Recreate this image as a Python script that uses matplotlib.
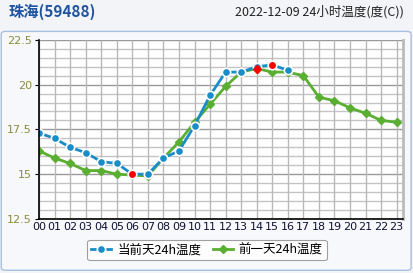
import matplotlib.pyplot as plt
from matplotlib.patches import FancyBboxPatch, Rectangle
from matplotlib.lines import Line2D

plt.rcParams['font.family'] = ['Noto Sans CJK SC', 'DejaVu Sans']

hours = ['%02d' % h for h in range(24)]
today = [17.3, 17.0, 16.5, 16.2, 15.7, 15.6, 15.0, 15.0, 15.9, 16.3, 17.7,
         19.4, 20.7, 20.7, 21.0, 21.1, 20.8]
yesterday = [16.3, 15.9, 15.6, 15.2, 15.2, 15.0, 14.95, 14.9, 15.9, 16.8, 17.9,
             18.9, 19.9, 20.7, 20.9, 20.7, 20.7, 20.5, 19.3, 19.1, 18.7, 18.4,
             18.0, 17.9]
yticks = [12.5, 15, 17.5, 20, 22.5]
ytick_labels = ['12.5', '15', '17.5', '20', '22.5']
ygrid = [12.5 + 0.5 * i for i in range(21)]

blue = '#1a8dc9'
green = '#5aae32'

fig = plt.figure(figsize=(4.14, 2.73), dpi=100)
fig.patch.set_facecolor('#f3f4f8')

pos = [0.0942, 0.198, 0.879, 0.656]

bg = fig.add_axes([0, 0, 1, 1], zorder=-5)
bg.set_axis_off()
bg.add_patch(FancyBboxPatch((0.003, 0.01), 0.99, 0.875,
                            boxstyle='round,pad=0,rounding_size=0.01',
                            transform=bg.transAxes, facecolor='#f7f8fc',
                            edgecolor='#a9c0e0', linewidth=1))
bg.add_patch(Rectangle((pos[0], pos[1]), pos[2], pos[3], transform=bg.transAxes,
                       facecolor='white', edgecolor='none'))

fig.text(0.02, 0.955, '珠海(59488)', color='#1f55a0', fontsize=11,
         fontweight='bold', ha='left', va='center')
fig.text(0.976, 0.955, '2022-12-09 24小时温度(度(C))', color='#222222',
         fontsize=9, ha='right', va='center')

ax = fig.add_axes(pos)
ax.patch.set_visible(False)
ax.set_xlim(0, 23.4)
ax.set_ylim(12.5, 22.5)

# grid
ax.hlines(ygrid, 0, 23.4, colors=['#999999' if v in yticks else '#c4c4c4' for v in ygrid],
          linewidth=1.0, zorder=2)
ax.vlines(range(24), 12.5, 22.5, colors='#b8b8b8', linewidth=1.0, zorder=2)

x_today = list(range(len(today)))
x_yest = list(range(len(yesterday)))

ax.plot(x_yest, yesterday, color=green, linewidth=2, marker='D', markersize=4.5,
        zorder=3)
ax.plot(x_today, today, color=blue, linewidth=2, marker='o', markersize=6,
        markeredgecolor='white', markeredgewidth=1.2, zorder=4)

imin = today.index(min(today))
imax = today.index(max(today))
ax.plot([x_today[imin], x_today[imax]], [today[imin], today[imax]], 'o',
        color='#ff0000', markersize=6, markeredgecolor='white',
        markeredgewidth=1.0, zorder=5)
gmax = yesterday.index(max(yesterday))
ax.plot([x_yest[gmax]], [yesterday[gmax]], 'D', color='#ff0000', markersize=4.5,
        zorder=5)

ax.set_xticks(range(24))
ax.set_xticklabels(hours, fontsize=8, color='#111133', family=['DejaVu Sans'])
ax.set_yticks(yticks)
ax.set_yticklabels(ytick_labels, fontsize=8, color='#8c8c40', family=['DejaVu Sans'])
ax.tick_params(axis='x', length=0, pad=2)
ax.tick_params(axis='y', length=3, direction='out', color='black', pad=2)

ax.spines['top'].set_visible(False)
ax.spines['right'].set_color('#bbbbbb')
ax.spines['right'].set_linewidth(2)
ax.spines['left'].set_color('black')
ax.spines['bottom'].set_color('black')
ax.spines['bottom'].set_linewidth(1.2)
ax.spines['left'].set_linewidth(1.2)
for sp in ax.spines.values():
    sp.set_zorder(6)

handles = [
    Line2D([], [], color=blue, linewidth=2, marker='o', markersize=6,
           markeredgecolor='white', markeredgewidth=1.2),
    Line2D([], [], color=green, linewidth=2, marker='D', markersize=4),
]
leg = fig.legend(handles, ['当前天24h温度', '前一天24h温度'], loc='center',
                 bbox_to_anchor=(0.5, 0.085), ncol=2, fontsize=9,
                 frameon=True, fancybox=True, edgecolor='#888888',
                 handlelength=1.6, handletextpad=0.5, columnspacing=0.9,
                 borderpad=0.3)
leg.get_frame().set_linewidth(0.8)
leg.get_frame().set_facecolor('white')

fig.savefig('out.png', dpi=100, facecolor=fig.get_facecolor())
